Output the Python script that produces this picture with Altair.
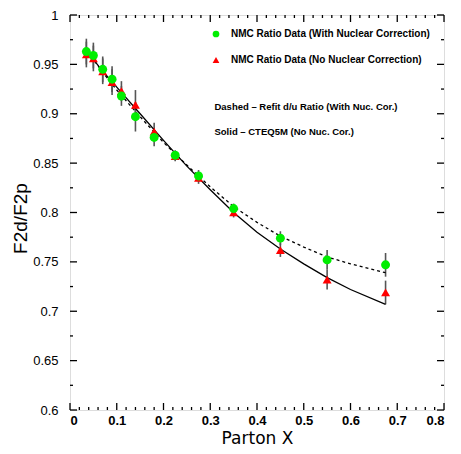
import altair as alt
import pandas as pd
import numpy as np

# ---- data ----
x_pts = [0.035, 0.05, 0.07, 0.09, 0.11, 0.14, 0.18, 0.225, 0.275, 0.35, 0.45, 0.55, 0.675]
with_nuc = [0.963, 0.959, 0.945, 0.935, 0.918, 0.897, 0.876, 0.858, 0.837, 0.804, 0.774, 0.752, 0.747]
no_nuc = [0.960, 0.956, 0.943, 0.932, 0.923, 0.909, 0.882, 0.857, 0.835, 0.800, 0.762, 0.732, 0.719]
errs = [0.013, 0.013, 0.013, 0.013, 0.010, 0.015, 0.009, 0.005, 0.006, 0.005, 0.007, 0.010, 0.012]

curve_x = [0.035, 0.05, 0.07, 0.1, 0.15, 0.2, 0.25, 0.3, 0.35, 0.4, 0.45, 0.5, 0.55, 0.6, 0.675]
solid_cteq = [0.963, 0.955, 0.943, 0.927, 0.900, 0.873, 0.847, 0.823, 0.800, 0.780, 0.763, 0.748, 0.734, 0.722, 0.707]
dashed_refit = [0.962, 0.955, 0.942, 0.924, 0.897, 0.871, 0.848, 0.826, 0.806, 0.790, 0.776, 0.765, 0.755, 0.748, 0.739]

series_names = ["NMC Ratio Data (With Nuclear Correction)", "NMC Ratio Data (No Nuclear Correction)"]
series_colors = ["#00ee00", "#ff0000"]
series_shapes = ["circle", "triangle-up"]

x_major = [0, 0.1, 0.2, 0.3, 0.4, 0.5, 0.6, 0.7, 0.8]
x_minor = [v for v in np.round(np.arange(0, 0.8001, 0.02), 3) if round(v * 10, 6) % 1 != 0]
y_major = [0.6, 0.65, 0.7, 0.75, 0.8, 0.85, 0.9, 0.95, 1.0]
y_minor = [0.625, 0.675, 0.725, 0.775, 0.825, 0.875, 0.925, 0.975]

annot_text = ["Dashed \u2013 Refit d/u Ratio (With Nuc. Cor.)", "Solid \u2013 CTEQ5M (No Nuc. Cor.)"]
annot_x = [0.309, 0.309]
annot_y = [0.907, 0.882]

W, H = 374, 395
xs = alt.Scale(domain=[0, 0.8], nice=False, zero=False)
ys = alt.Scale(domain=[0.6, 1.0], nice=False, zero=False)

# ---- tables ----
pts = pd.DataFrame({
    "x": x_pts * 2,
    "y": no_nuc + with_nuc,
    "err": errs * 2,
    "series": [series_names[1]] * len(x_pts) + [series_names[0]] * len(x_pts),
})
pts["lo"] = pts["y"] - pts["err"]
pts["hi"] = pts["y"] + pts["err"]

solid_df = pd.DataFrame({"x": curve_x, "y": solid_cteq})
dashed_df = pd.DataFrame({"x": curve_x, "y": dashed_refit})
annot_df = pd.DataFrame({"x": annot_x, "y": annot_y, "t": annot_text})

xaxis = alt.Axis(values=x_major, labelExpr="datum.value == 0 ? '0' : format(datum.value, '.1f')",
                 ticks=False, domain=False, grid=False, labelFont="Liberation Sans", labelFontSize=13,
                 labelFontWeight="bold", labelColor="black", labelPadding=4,
                 title="Parton X", titleFont="DejaVu Sans", titleFontSize=17, titleFontWeight="normal",
                 titleColor="black", titleBaseline="alphabetic", titleY=33)
yaxis = alt.Axis(values=y_major, labelExpr="datum.value == 1 ? '1' : format(datum.value, '.2~f')",
                 ticks=False, domain=False, grid=False, labelFont="Liberation Sans", labelFontSize=13,
                 labelColor="black", labelPadding=12,
                 title="F2d/F2p", titleFont="Liberation Sans", titleFontSize=19, titleFontWeight="normal",
                 titleColor="black", titleBaseline="alphabetic", titleAngle=-90, titleAlign="center",
                 titleX=-44, titleY=203)

errbars = alt.Chart(pts).mark_rule(color="#555555", strokeWidth=1.6).encode(
    x=alt.X("x:Q", scale=xs, axis=xaxis),
    y=alt.Y("lo:Q", scale=ys, axis=yaxis),
    y2="hi:Q",
)

solid = alt.Chart(solid_df).mark_line(color="black", strokeWidth=1.3).encode(
    x=alt.X("x:Q", scale=xs), y=alt.Y("y:Q", scale=ys))
dashed = alt.Chart(dashed_df).mark_line(color="black", strokeWidth=1.3, strokeDash=[3, 3]).encode(
    x=alt.X("x:Q", scale=xs), y=alt.Y("y:Q", scale=ys))

points = alt.Chart(pts).mark_point(filled=True, opacity=1, size=80).encode(
    x=alt.X("x:Q", scale=xs),
    y=alt.Y("y:Q", scale=ys),
    color=alt.Color("series:N", scale=alt.Scale(domain=series_names, range=series_colors),
                    legend=alt.Legend(title=None, orient="none", legendX=141, legendY=14,
                                      labelFont="Liberation Sans", labelFontSize=10, labelFontWeight="bold",
                                      labelColor="black", symbolSize=45, labelOffset=10, rowPadding=16,
                                      padding=0, labelLimit=400)),
    shape=alt.Shape("series:N", scale=alt.Scale(domain=series_names, range=series_shapes)),
)

annots = alt.Chart(annot_df).mark_text(align="left", baseline="middle", font="Liberation Sans",
                                       fontSize=9.5, fontWeight="bold", color="black").encode(
    x=alt.X("x:Q", scale=xs), y=alt.Y("y:Q", scale=ys), text="t:N")

# inward ticks on all four sides
xmaj_df = pd.DataFrame({"x": x_major})
xmin_df = pd.DataFrame({"x": x_minor})
ymaj_df = pd.DataFrame({"y": y_major})
ymin_df = pd.DataFrame({"y": y_minor})
tk = dict(color="black", strokeWidth=1.3)

def xticks(df, L):
    b = alt.Chart(df).mark_rule(**tk).encode(x=alt.X("x:Q", scale=xs), y=alt.value(H), y2=alt.value(H - L))
    t = alt.Chart(df).mark_rule(**tk).encode(x=alt.X("x:Q", scale=xs), y=alt.value(0), y2=alt.value(L))
    return b + t

def yticks(df, L):
    l = alt.Chart(df).mark_rule(**tk).encode(y=alt.Y("y:Q", scale=ys), x=alt.value(0), x2=alt.value(L))
    r = alt.Chart(df).mark_rule(**tk).encode(y=alt.Y("y:Q", scale=ys), x=alt.value(W), x2=alt.value(W - L))
    return l + r

chart = alt.layer(
    errbars, solid, dashed, points, annots,
    xticks(xmaj_df, 7), xticks(xmin_df, 3), yticks(ymaj_df, 7), yticks(ymin_df, 3),
).properties(
    width=W, height=H,
    padding={"left": 62, "top": 7, "right": 9, "bottom": 36},
    autosize=alt.AutoSizeParams(type="none"),
).configure_view(
    stroke="black", strokeWidth=2
).configure(background="white")

chart.save("out.html", embed_options={"renderer": "svg", "actions": False})
